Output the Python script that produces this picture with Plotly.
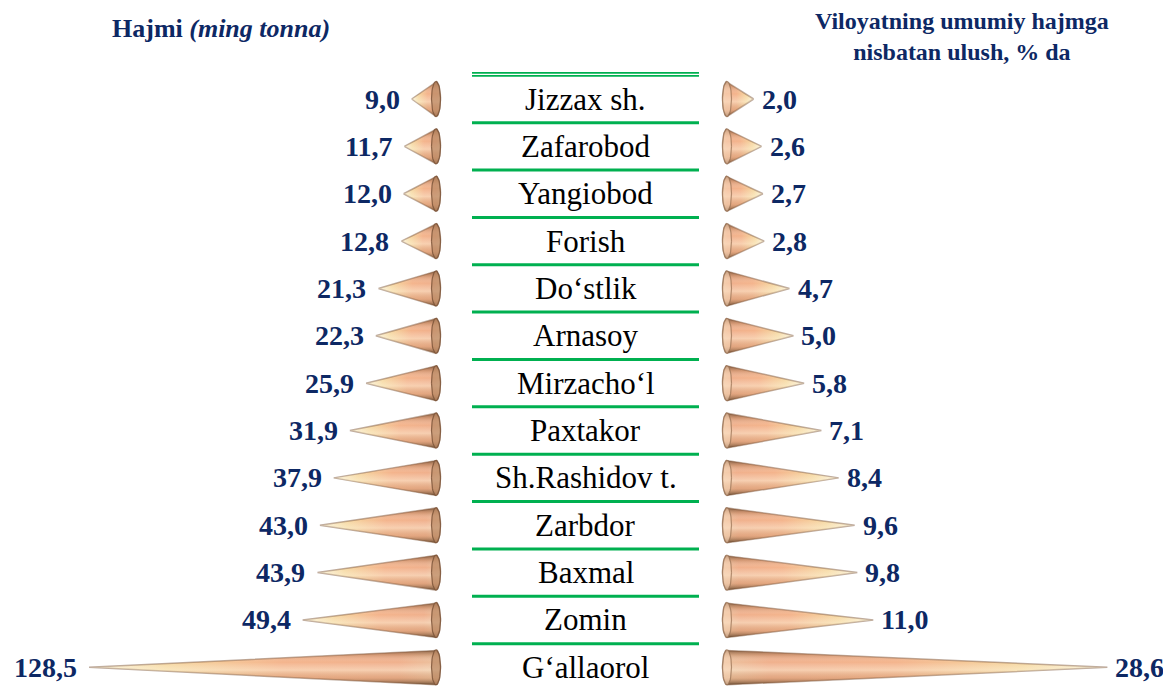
import plotly.graph_objects as go
import numpy as np

# ---------------- data ----------------
categories = ["Jizzax sh.", "Zafarobod", "Yangiobod", "Forish", "Do\u2018stlik", "Arnasoy",
              "Mirzacho\u2018l", "Paxtakor", "Sh.Rashidov t.", "Zarbdor", "Baxmal", "Zomin",
              "G\u2018allaorol"]
volume = [9.0, 11.7, 12.0, 12.8, 21.3, 22.3, 25.9, 31.9, 37.9, 43.0, 43.9, 49.4, 128.5]
share = [2.0, 2.6, 2.7, 2.8, 4.7, 5.0, 5.8, 7.1, 8.4, 9.6, 9.8, 11.0, 28.6]

left_title = "<b>Hajmi <i>(ming tonna)</i></b>"
right_title = "<b>Viloyatning umumiy hajmga<br>nisbatan ulush, % da</b>"

# ---------------- style / layout constants ----------------
OFF = 8                      # page body margin in the browser
W, H = 1171 - OFF, 688 - OFF
SERIF = "Liberation Serif, Times New Roman, serif"
NAVY = "#0d2864"
GREEN = "#00b050"

ROW0_PX, ROW_PITCH = 99.0 - OFF, 47.36
Y_TOP = -ROW0_PX / ROW_PITCH
Y_BOT = (H - ROW0_PX) / ROW_PITCH

L_ZERO_PX, L_SCALE = 436.0 - OFF, 2.70     # px per unit (left panel)
R_ZERO_PX, R_SCALE = 727.0 - OFF, 13.30    # px per unit (right panel)
PAD = 12.0                                  # px of room for base ellipse

HALF_H_PX = 17.5
ELL_A_PX = 4.5
half_h = HALF_H_PX / ROW_PITCH


def fmt(v):
    return f"{v:.1f}".replace(".", ",")


def cone_traces(v, yc, axis, scale, rim_fill, rim_line):
    a = ELL_A_PX / scale
    t = np.linspace(np.pi / 2, 3 * np.pi / 2, 25)
    ex = a * np.cos(t)
    ey = half_h * np.sin(t)
    xs = [v] + list(ex) + [v]
    ys = [yc] + list(yc - ey) + [yc]
    body = go.Scatter(
        x=xs, y=ys, xaxis=axis, yaxis="y", mode="lines", fill="toself",
        line=dict(color="rgba(125,88,62,0.5)", width=1.5),
        fillgradient=dict(type="horizontal", start=-a, stop=v,
                          colorscale=[[0, "#ecc29e"], [0.12, "#f0b08c"], [0.45, "#f4b48c"],
                                      [0.78, "#f6d8a0"], [1, "#fbf2da"]]),
        hoverinfo="skip", showlegend=False)
    shade = go.Scatter(
        x=xs, y=ys, xaxis=axis, yaxis="y", mode="lines", fill="toself",
        line=dict(width=0, color="rgba(0,0,0,0)"),
        fillgradient=dict(type="vertical", start=yc - half_h, stop=yc + half_h,
                          colorscale=[[0, "rgba(105,70,45,0.85)"], [0.15, "rgba(160,110,75,0.35)"],
                                      [0.35, "rgba(255,255,255,0)"], [0.58, "rgba(255,252,232,0.4)"],
                                      [0.8, "rgba(185,135,95,0.25)"], [1, "rgba(95,65,40,0.9)"]]),
        hoverinfo="skip", showlegend=False)
    t2 = np.linspace(0, 2 * np.pi, 40)
    rim = go.Scatter(
        x=list(a * np.cos(t2)), y=list(yc + half_h * np.sin(t2)), xaxis=axis, yaxis="y",
        mode="lines", fill="toself", fillcolor=rim_fill,
        line=dict(color=rim_line, width=1.2),
        hoverinfo="skip", showlegend=False)
    return [body, shade, rim]


fig = go.Figure()
for i, (v, s) in enumerate(zip(volume, share)):
    for tr in cone_traces(v, i, "x", L_SCALE, "rgba(185,135,98,0.7)", "rgba(125,85,58,0.85)"):
        fig.add_trace(tr)
    for tr in cone_traces(s, i, "x2", R_SCALE, "rgba(250,215,185,0.55)", "rgba(150,110,80,0.7)"):
        fig.add_trace(tr)

annotations = []
for i, (c, v, s) in enumerate(zip(categories, volume, share)):
    annotations.append(dict(x=v, y=i, xref="x", yref="y", text="<b>%s</b>" % fmt(v),
                            xanchor="right", yanchor="middle", xshift=-10, showarrow=False,
                            font=dict(family=SERIF, size=28, color=NAVY)))
    annotations.append(dict(x=s, y=i, xref="x2", yref="y", text="<b>%s</b>" % fmt(s),
                            xanchor="left", yanchor="middle", xshift=6, showarrow=False,
                            font=dict(family=SERIF, size=28, color=NAVY)))
    annotations.append(dict(x=(585.5 - OFF) / W, y=i, xref="paper", yref="y", text=c,
                            xanchor="center", yanchor="middle", showarrow=False,
                            font=dict(family=SERIF, size=31, color="black")))

annotations.append(dict(x=(221 - OFF) / W, y=1 - (28 - OFF) / H, xref="paper", yref="paper",
                        text=left_title, xanchor="center", yanchor="middle", showarrow=False,
                        font=dict(family=SERIF, size=26, color=NAVY)))
annotations.append(dict(x=(962 - OFF) / W, y=1 - (37 - OFF) / H, xref="paper", yref="paper",
                        text=right_title, xanchor="center", yanchor="middle", showarrow=False,
                        align="center", font=dict(family=SERIF, size=24, color=NAVY)))

shapes = []
X0, X1 = (472 - OFF) / W, (699 - OFF) / W
for i in range(len(categories) - 1):
    shapes.append(dict(type="line", xref="paper", yref="y", x0=X0, x1=X1,
                       y0=i + 0.5, y1=i + 0.5, line=dict(color=GREEN, width=3)))
for yy in (-0.55, -0.487):
    shapes.append(dict(type="line", xref="paper", yref="y", x0=X0, x1=X1,
                       y0=yy, y1=yy, line=dict(color=GREEN, width=1.8)))

axis_common = dict(showgrid=False, zeroline=False, showticklabels=False, ticks="",
                   showline=False, fixedrange=True)
fig.update_layout(
    width=W, height=H, margin=dict(l=0, r=0, t=0, b=0),
    paper_bgcolor="white", plot_bgcolor="white",
    xaxis=dict(domain=[0, (L_ZERO_PX + PAD) / W], range=[L_ZERO_PX / L_SCALE, -PAD / L_SCALE],
               anchor="y", **axis_common),
    xaxis2=dict(domain=[(R_ZERO_PX - PAD) / W, 1], range=[-PAD / R_SCALE, (W - R_ZERO_PX) / R_SCALE],
                anchor="y", **axis_common),
    yaxis=dict(domain=[0, 1], range=[Y_BOT, Y_TOP], anchor="x", **axis_common),
    annotations=annotations, shapes=shapes, showlegend=False, hovermode=False,
)

fig.write_html("out.html")
